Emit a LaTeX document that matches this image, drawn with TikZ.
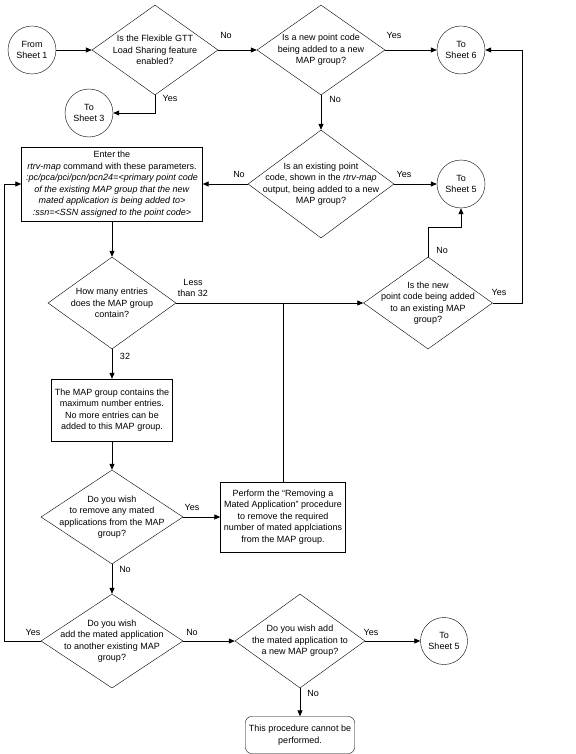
\documentclass[tikz,border=0pt]{standalone}
\usepackage{fontspec}
\setmainfont{Liberation Sans}
\usetikzlibrary{shapes.geometric,arrows.meta}

\tikzset{
  sheet/.style={draw, circle, minimum size=48pt, inner sep=0pt, align=center},
  decision/.style={draw, diamond, inner sep=-30pt, align=center},
  process/.style={draw, rectangle, inner sep=2pt, align=center},
  finish/.style={draw, rectangle, rounded corners=6pt, inner sep=2pt, align=center},
}

\begin{document}
\begin{tikzpicture}[scale=1.0, x=1pt, y=-1pt, >={Triangle[length=6pt,width=5pt]}, font=\fontsize{9}{11.5}\selectfont]
\useasboundingbox (0,0) rectangle (575,754);

\node[sheet] (from1) at (32,50) {From\\Sheet 1};
\node[decision, minimum width=126pt, minimum height=90pt] (gtt) at (155,50) {Is the Flexible GTT\\Load Sharing feature\\enabled?};
\node[decision, minimum width=128pt, minimum height=90pt] (newpc) at (321,50) {Is a new point code\\being added to a new\\MAP group?};
\node[sheet] (sheet6) at (461,50) {To\\Sheet 6};
\node[sheet] (sheet3) at (89,113) {To\\Sheet 3};
\node[decision, minimum width=146pt, minimum height=108pt] (exist) at (321,184) {Is an existing point\\code, shown in the \textit{rtrv-map}\\output, being added to a new\\MAP group?};
\node[sheet] (sheet5a) at (461,184) {To\\Sheet 5};
\node[process, minimum width=181pt, minimum height=74pt] (enter) at (112,184) {Enter the\\\textit{rtrv-map} command with these parameters.\\\textit{:pc/pca/pci/pcn/pcn24=<primary point code}\\\textit{of the existing MAP group that the new}\\\textit{mated application is being added to>}\\\textit{:ssn=<SSN assigned to the point code>}};
\node[decision, minimum width=128pt, minimum height=92pt] (entries) at (112,303) {How many entries\\does the MAP group\\contain?};
\node[decision, minimum width=129pt, minimum height=92pt] (addexist) at (428,303) {Is the new\\point code being added\\to an existing MAP\\group?};
\node[process, minimum width=121pt, minimum height=62pt] (full) at (112,410) {The MAP group contains the\\maximum number entries.\\No more entries can be\\added to this MAP group.};
\node[decision, minimum width=142pt, minimum height=94pt] (remove) at (112,517) {Do you wish\\to remove any mated\\applications from the MAP\\group?};
\node[process, minimum width=125pt, minimum height=70pt] (perform) at (283,517) {Perform the “Removing a\\Mated Application” procedure\\to remove the required\\number of mated applciations\\from the MAP group.};
\node[decision, minimum width=142pt, minimum height=94pt] (another) at (112,641) {Do you wish\\add the mated application\\to another existing MAP\\group?};
\node[decision, minimum width=130pt, minimum height=94pt] (newgrp) at (300,641) {Do you wish add\\the mated application to\\a new MAP group?};
\node[sheet, minimum size=47pt] (sheet5b) at (444,641) {To\\Sheet 5};
\node[finish, minimum width=109pt, minimum height=37pt] (stop) at (300,735) {This procedure cannot be\\performed.};

\coordinate (lft) at (4,0);
\coordinate (rgt) at (522,0);

\path[draw,thick,->] (from1) -- (gtt);
\path[draw,thick,->] (gtt) -- (newpc);
\path[draw,thick,->] (newpc) -- (sheet6);
\path[draw,thick,->] (gtt.south) |- (sheet3);
\path[draw,thick,->] (newpc) -- (exist);
\path[draw,thick,->] (exist) -- (enter);
\path[draw,thick,->] (exist) -- (sheet5a);
\path[draw,thick,->] (enter) -- (entries);
\path[draw,thick,->] (entries) -- (addexist);
\path[draw,thick,->] (addexist.north) -- ++(0,-29) -| (sheet5a);
\path[draw,thick,->] (addexist.east) -- (addexist.east -| rgt) |- (sheet6);
\path[draw,thick,->] (entries) -- (full);
\path[draw,thick,->] (full) -- (remove);
\path[draw,thick,->] (remove) -- (perform);
\path[draw,thick] (perform.north) -- (perform.north |- entries.east);
\path[draw,thick,->] (remove) -- (another);
\path[draw,thick,->] (another.west) -- (another.west -| lft) |- (enter);
\path[draw,thick,->] (another) -- (newgrp);
\path[draw,thick,->] (newgrp) -- (sheet5b);
\path[draw,thick,->] (newgrp) -- (stop);

\node at (226,35) {No};
\node at (394,35) {Yes};
\node at (170,98) {Yes};
\node at (335,99) {No};
\node at (239,174) {No};
\node at (404,174) {Yes};
\node at (442,250) {No};
\node at (499,292) {Yes};
\node[align=center] at (193,288) {Less\\than 32};
\node at (125,356) {32};
\node at (192,507) {Yes};
\node at (125,569) {No};
\node at (33,632) {Yes};
\node at (192,632) {No};
\node at (371,632) {Yes};
\node at (313,693) {No};
\end{tikzpicture}
\end{document}
